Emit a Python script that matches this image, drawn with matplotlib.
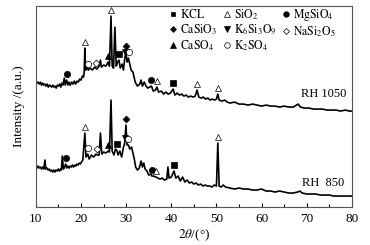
import matplotlib
matplotlib.use("Agg")
import matplotlib.pyplot as plt
from matplotlib.lines import Line2D
import numpy as np

plt.rcParams["font.family"] = ["Liberation Serif", "DejaVu Serif"]
plt.rcParams["mathtext.fontset"] = "stix"

# XRD pattern, RH 1050 (2theta, intensity a.u.)
tt_1050 = [10.0, 10.25, 10.5, 10.75, 11.0, 11.25, 11.5, 11.75, 12.0, 12.25, 12.5, 12.75, 13.0, 13.25,
           13.5, 13.75, 14.0, 14.25, 14.5, 14.75, 15.0, 15.25, 15.5, 15.75, 16.0, 16.3, 16.5, 16.8,
           17.1, 17.3, 17.6, 17.9, 18.2, 18.5, 18.8, 19.1, 19.4, 19.7, 20.0, 20.3, 20.55, 20.7,
           20.85, 21.0, 21.3, 21.6, 22.0,
           22.5, 23.0, 23.5, 24.0, 24.3, 24.5, 25.0, 25.5, 26.0, 26.3, 26.64, 26.9, 27.2, 27.5, 27.8,
           28.1, 28.4, 28.7, 29.1, 29.4, 29.7, 29.95, 30.2, 30.5, 30.8, 31.1, 31.5, 32.0, 32.5, 33.0,
           33.3, 33.6, 34.0, 34.4, 34.8, 35.2, 35.6, 36.0, 36.5, 36.8, 37.2, 37.8, 38.3, 38.8, 39.3,
           39.8, 40.4, 40.8, 41.3, 41.8, 42.3, 42.8, 43.3, 43.8, 44.3, 44.8, 45.3, 45.7, 46.1, 46.6,
           47.1, 47.6, 48.1, 48.6, 49.1, 49.6, 50.0, 50.3, 50.6, 51.2, 51.8, 52.4, 53.0, 54.0, 55.0,
           56.0, 57.0, 58.0, 59.0, 60.0, 61.0, 62.0, 63.0, 64.0, 65.0, 66.0, 67.0, 68.1, 68.6, 69.5,
           70.5, 71.5, 72.5, 73.5, 74.5, 75.5, 76.5, 77.5, 78.5, 79.5, 80.0]
int_1050 = [126, 124, 125, 123, 125, 122, 124, 122, 123, 121, 123, 120, 122, 121,
            120, 122, 120, 121, 119, 122, 121, 123, 120, 124, 122, 129, 122, 127,
            122, 125, 122, 125, 123, 126, 123, 126, 125, 128, 127, 131, 130, 135,
            159, 137, 141, 137, 139,
            137, 140, 138, 141, 147, 140, 142, 141, 145, 141, 191, 141, 139, 180, 141,
            145, 147, 139, 143, 137, 149, 155, 145, 149, 143, 137, 135, 125, 121, 123,
            127, 121, 125, 121, 119, 120, 121, 116, 117, 120, 115, 116, 113, 115, 113,
            114, 118, 112, 114, 112, 113, 111, 112, 110, 111, 110, 111, 117, 110, 109,
            110, 108, 109, 107, 108, 107, 108, 113, 107, 106, 107, 105, 104, 105, 103,
            103, 102, 103, 102, 101, 102, 101, 101, 100, 101, 100, 100, 103, 100, 99,
            99, 98, 98, 98, 97, 97, 97, 96, 97, 96, 96]

# XRD pattern, RH 850
tt_850 = [10.0, 10.25, 10.5, 10.75, 11.0, 11.25, 11.5, 11.75, 12.0, 12.2, 12.45, 12.7, 12.95, 13.2,
          13.45, 13.7, 13.95, 14.2, 14.45, 14.7, 14.95, 15.2, 15.45, 15.65, 15.85, 16.1, 16.35, 16.6,
          16.85, 17.1, 17.35, 17.6, 17.85, 18.1, 18.35, 18.6, 18.85, 19.1, 19.35, 19.6, 19.85, 20.1,
          20.4, 20.85, 21.1, 21.5, 21.8,
          22.3, 22.8, 23.3, 23.6, 24.0, 24.3, 24.6, 25.0, 25.5, 26.0, 26.3, 26.64, 26.9, 27.3, 27.6,
          27.9, 28.2, 28.6, 29.0, 29.4, 29.65, 29.95, 30.2, 30.5, 30.8, 31.2, 31.4, 31.8, 32.1, 32.5,
          32.9, 33.3, 33.6, 33.9, 34.2, 34.6, 35.0, 35.5, 35.7, 36.0, 36.6, 37.0, 37.5, 38.0, 38.5,
          39.0, 39.25, 39.5, 40.0, 40.6, 41.0, 41.5, 42.0, 42.5, 43.0, 43.5, 44.0, 44.5, 45.0, 45.5,
          46.0, 46.5, 47.0, 47.5, 48.0, 48.5, 49.0, 49.5, 50.0, 50.3, 50.6, 51.0, 51.5, 52.0, 53.0,
          54.0, 55.0, 56.0, 57.0, 58.0, 59.0, 60.0, 61.0, 62.0, 63.0, 64.0, 65.0, 66.0, 67.0, 68.0,
          68.5, 69.0, 70.0, 71.0, 72.0, 73.0, 74.0, 75.0, 76.0, 77.0, 78.0, 79.0, 80.0]
int_850 = [41, 39, 41, 39, 40, 38, 40, 38, 47, 38, 39, 37, 38, 36,
           37, 35, 37, 35, 37, 36, 38, 36, 38, 37, 51, 38, 40, 43,
           39, 41, 39, 41, 40, 42, 40, 42, 41, 43, 42, 44, 43, 45,
           47, 74, 50, 53, 48,
           52, 50, 53, 52, 52, 74, 53, 55, 54, 56, 55, 107, 56, 52, 58,
           57, 52, 56, 50, 60, 63, 82, 62, 62, 58, 60, 56, 48, 40, 37,
           39, 46, 40, 44, 38, 36, 32, 33, 31, 31, 30, 29, 28, 29, 27,
           28, 40, 29, 30, 36, 29, 31, 26, 30, 25, 27, 24, 25, 23, 24,
           22, 23, 21, 22, 21, 21, 20, 22, 21, 64, 21, 20, 22, 20, 19,
           18, 19, 18, 18, 17, 17, 18, 16, 16, 15, 16, 15, 14, 14, 15,
           16, 14, 13, 13, 13, 12, 12, 12, 11, 11, 11, 11, 11]

# phase identification marks: (2theta, phase)
peaks_1050 = [(16.8, "MgSiO4"), (20.85, "SiO2"), (21.6, "K2SO4"), (23.3, "NaSi2O5"), (25.9, "CaSO4"),
              (26.64, "SiO2"), (28.4, "KCL"), (29.7, "K6Si3O9"), (29.95, "CaSiO3"), (30.6, "K2SO4"),
              (35.6, "MgSiO4"), (36.8, "SiO2"), (40.4, "KCL"), (45.7, "SiO2"), (50.3, "SiO2")]
peaks_850 = [(16.7, "MgSiO4"), (20.85, "SiO2"), (21.5, "K2SO4"), (23.6, "NaSi2O5"), (26.0, "CaSO4"),
             (27.9, "KCL"), (29.65, "K6Si3O9"), (29.95, "CaSiO3"), (30.5, "K2SO4"),
             (35.7, "MgSiO4"), (36.6, "SiO2"), (40.6, "KCL"), (50.3, "SiO2")]

phases = ["KCL", "CaSiO3", "CaSO4", "SiO2", "K6Si3O9", "K2SO4", "MgSiO4", "NaSi2O5"]
labels = [r"$\mathrm{KCL}$", r"$\mathrm{CaSiO_3}$", r"$\mathrm{CaSO_4}$", r"$\mathrm{SiO_2}$",
          r"$\mathrm{K_6Si_3O_9}$", r"$\mathrm{K_2SO_4}$", r"$\mathrm{MgSiO_4}$", r"$\mathrm{NaSi_2O_5}$"]
style = {
    "KCL": ("s", "k", 4),
    "CaSiO3": ("D", "k", 3.5),
    "CaSO4": ("^", "k", 4.5),
    "SiO2": ("^", "white", 4.5),
    "K6Si3O9": ("v", "k", 4.5),
    "K2SO4": ("o", "white", 4.5),
    "MgSiO4": ("o", "k", 4.5),
    "NaSi2O5": ("D", "white", 3.5),
}

fig = plt.figure(figsize=(3.7, 2.45), dpi=100)
ax = fig.add_axes([0.097, 0.155, 0.854, 0.82])

for tt, inten in [(tt_1050, int_1050), (tt_850, int_850)]:
    ax.plot(tt, inten, color="black", lw=1.2)

for tt, inten, peaks in [(tt_1050, int_1050, peaks_1050), (tt_850, int_850, peaks_850)]:
    tt_a = np.array(tt)
    in_a = np.array(inten)
    for pos, ph in peaks:
        near = np.abs(tt_a - pos) <= 0.2
        top = in_a[near].max() if near.any() else np.interp(pos, tt_a, in_a)
        m, fc, ms = style[ph]
        ax.plot(pos, top + 6, marker=m, ms=ms, mfc=fc, mec="black", mew=0.5, ls="none")

ax.text(78.8, 113, "RH 1050", ha="right", va="center", fontsize=9)
ax.text(78.3, 24, "RH  850", ha="right", va="center", fontsize=9)

handles = [Line2D([], [], marker=style[p][0], ms=style[p][2] - 0.5, mfc=style[p][1], mec="black",
                  mew=0.5, ls="none") for p in phases]
ax.legend(handles, labels, ncol=3, loc="upper left", bbox_to_anchor=(0.41, 1.02), frameon=False,
          fontsize=8.5, handlelength=0.5, handletextpad=0.35, columnspacing=0.55,
          labelspacing=0.12, borderaxespad=0.2, borderpad=0.2)

ax.set_xlim(10, 80)
ax.set_ylim(0, 201)
ax.set_xticks(range(10, 81, 10))
ax.set_xticks(range(15, 80, 10), minor=True)
ax.set_yticks([])
ax.tick_params(axis="x", direction="in", length=3, width=0.8, labelsize=9.5, pad=4)
ax.tick_params(axis="x", which="minor", direction="in", length=2, width=0.8)
for s in ax.spines.values():
    s.set_color("#555555")
    s.set_linewidth(0.8)

ax.set_xlabel(r"$2\theta$/(°)", fontsize=9.5, labelpad=2)
ax.set_ylabel("Intensity /(a.u.)", fontsize=9.5, labelpad=8)

fig.savefig("out.png", dpi=100)
